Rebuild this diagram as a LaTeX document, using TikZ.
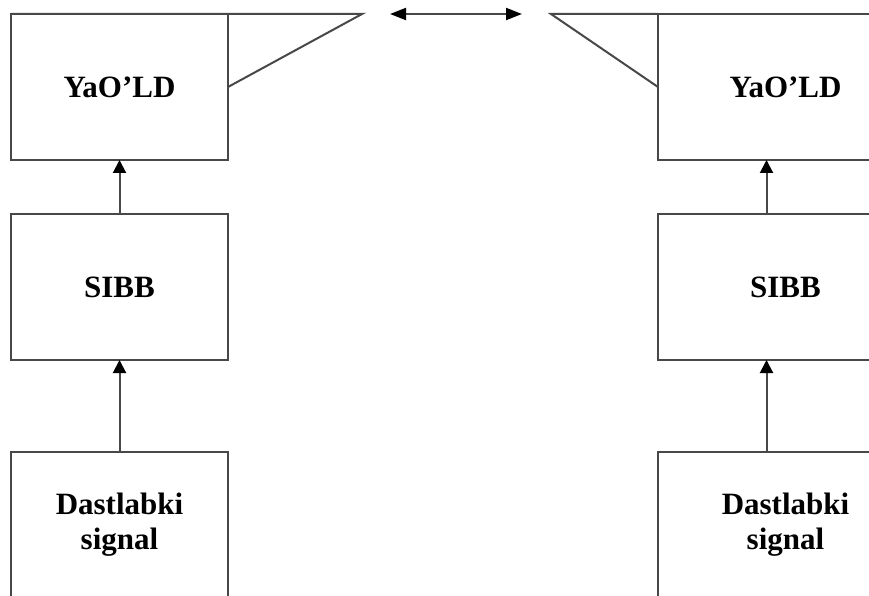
\documentclass[tikz,border=0pt]{standalone}
\usepackage{fontspec}
\setmainfont{Liberation Serif}
\usetikzlibrary{positioning, arrows.meta}
\definecolor{linegray}{HTML}{484848}

\begin{document}
\begin{tikzpicture}[x=1pt, y=-1pt, line width=2pt, draw=linegray,
  box/.style={draw=linegray, minimum width=217pt, minimum height=146pt, inner sep=0pt, outer sep=0pt,
              align=center, font=\fontsize{31}{35}\selectfont\bfseries},
  boxtext/.style={align=center, font=\fontsize{31}{35}\selectfont\bfseries, xshift=19pt},
  up/.style={-{Triangle[length=13pt, width=13pt, color=black]}}]
  \useasboundingbox (0,0) rectangle (869,596);
  \clip (0,0) rectangle (869,596);

  % left chain
  \node[box] (l3) at (119.5,87) {YaO’LD};
  \node[box, below=54pt of l3] (l2) {SIBB};
  \node[box, below=92pt of l2] (l1) {Dastlabki\\signal};
  \draw[up] (l1) -- (l2);
  \draw[up] (l2) -- (l3);

  % right chain
  \node[box, right=430pt of l3, label={[boxtext]center:YaO’LD}] (r3) {};
  \node[box, below=54pt of r3, label={[boxtext]center:SIBB}] (r2) {};
  \node[box, below=92pt of r2, label={[boxtext]center:Dastlabki\\signal}] (r1) {};
  \draw[up] (r1) -- (r2);
  \draw[up] (r2) -- (r3);

  % antenna link
  \coordinate (lant) at (362,14);
  \coordinate (rant) at (551,14);
  \coordinate (lwave) at (390,14);
  \coordinate (rwave) at (522,14);
  \draw (l3.north west) -- (lant) -- (l3.east);
  \draw (r3.north west) -- (rant) -- (r3.west);
  \draw[{Triangle[length=16pt, width=12pt, color=black]}-{Triangle[length=16pt, width=12pt, color=black]}] (lwave) -- (rwave);
\end{tikzpicture}
\end{document}
